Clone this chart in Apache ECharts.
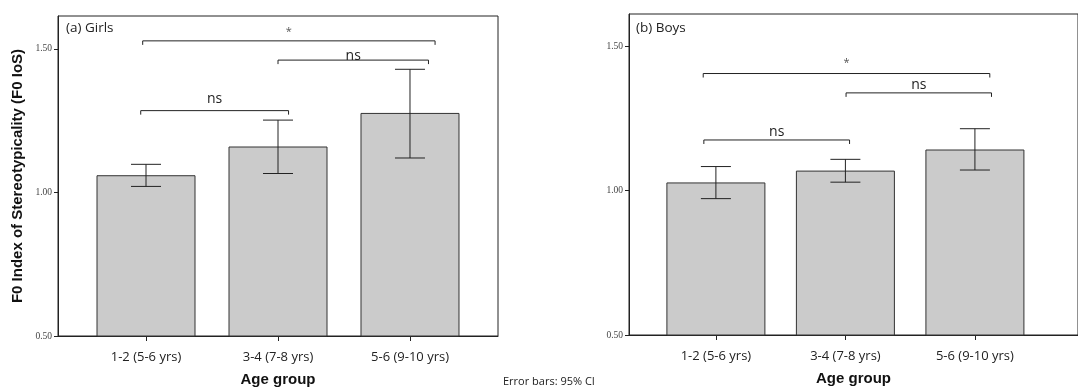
<!DOCTYPE html>
<html>
<head>
<meta charset="utf-8">
<script src="https://cdn.jsdelivr.net/npm/echarts@6/dist/echarts.min.js"></script>
<style>
  html, body { margin: 0; padding: 0; background: #fff; }
  #chart { width: 1078px; height: 392px; }
</style>
</head>
<body>
<div id="chart"></div>
<script>
  const ageGroups = ["1-2 (5-6 yrs)", "3-4 (7-8 yrs)", "5-6 (9-10 yrs)"];
  const yTicks = [0.5, 1.0, 1.5];

  const girlsMean = [1.06, 1.16, 1.277];
  const girlsLow = [1.021, 1.066, 1.12];
  const girlsHigh = [1.098, 1.252, 1.429];

  const boysMean = [1.028, 1.069, 1.142];
  const boysLow = [0.972, 1.029, 1.071];
  const boysHigh = [1.083, 1.108, 1.214];

  // [from, to, line level, label level, label]
  const girlsBrackets = [
    [-0.04, 1.08, 1.285, 1.326, "ns"],
    [1.0, 2.14, 1.461, 1.476, "ns"],
    [-0.025, 2.19, 1.528, 1.559, "*"],
  ];
  const boysBrackets = [
    [-0.093, 1.032, 1.175, 1.203, "ns"],
    [1.005, 2.128, 1.338, 1.366, "ns"],
    [-0.098, 2.115, 1.405, 1.442, "*"],
  ];

  const sans = "'Open Sans', 'Liberation Sans', sans-serif";
  const bold = "'Liberation Sans', Arial, sans-serif";
  const serif = "'Liberation Serif', 'DejaVu Serif', serif";

  const myChart = echarts.init(document.getElementById("chart"));

  const xAxisFor = (i, min, max) => ({
    type: "value",
    gridIndex: i,
    min: min,
    max: max,
    splitLine: { show: false },
    axisLine: { show: true, onZero: false, lineStyle: { color: "#222", width: 1 } },
    axisTick: { show: true, length: 5, customValues: [0, 1, 2], lineStyle: { color: "#222" } },
    axisLabel: {
      customValues: [0, 1, 2],
      formatter: (v) => ageGroups[Math.round(v)],
      margin: 15,
      fontFamily: sans,
      fontSize: 13,
      color: "#222",
    },
    name: "Age group",
    nameLocation: "middle",
    nameGap: 36,
    nameTextStyle: { fontFamily: bold, fontWeight: "bold", fontSize: 15, color: "#111" },
  });

  const yAxisFor = (i, max, withName) => ({
    type: "value",
    gridIndex: i,
    min: 0.5,
    max: max,
    splitLine: { show: false },
    axisLine: { show: true, onZero: false, lineStyle: { color: "#222", width: 1 } },
    axisTick: { show: true, length: 4, customValues: yTicks, lineStyle: { color: "#222" } },
    axisLabel: {
      customValues: yTicks,
      formatter: (v) => v.toFixed(2),
      margin: 6,
      fontFamily: serif,
      fontSize: 9.5,
      color: "#444",
    },
    name: withName ? "F0 Index of Stereotypicality (F0 IoS)" : "",
    nameLocation: "middle",
    nameGap: 33,
    nameTextStyle: { fontFamily: bold, fontWeight: "bold", fontSize: 15, color: "#111" },
  });

  const barSeries = (i, means) => ({
    type: "bar",
    xAxisIndex: i,
    yAxisIndex: i,
    barWidth: 99,
    data: means.map((v, k) => [k, v]),
    itemStyle: { color: "#cbcbcb", borderColor: "#333", borderWidth: 1 },
    silent: true,
  });

  const errorSeries = (i, low, high) => ({
    type: "custom",
    xAxisIndex: i,
    yAxisIndex: i,
    data: low.map((v, k) => [k, v, high[k]]),
    renderItem: (params, api) => {
      const lo = api.coord([api.value(0), api.value(1)]);
      const hi = api.coord([api.value(0), api.value(2)]);
      const half = 15;
      const style = { stroke: "#222", lineWidth: 1 };
      return {
        type: "group",
        children: [
          { type: "line", shape: { x1: lo[0], y1: lo[1], x2: hi[0], y2: hi[1] }, style },
          { type: "line", shape: { x1: hi[0] - half, y1: hi[1], x2: hi[0] + half, y2: hi[1] }, style },
          { type: "line", shape: { x1: lo[0] - half, y1: lo[1], x2: lo[0] + half, y2: lo[1] }, style },
        ],
      };
    },
    z: 5,
  });

  const bracketSeries = (i, brackets) => ({
    type: "custom",
    xAxisIndex: i,
    yAxisIndex: i,
    clip: false,
    data: brackets.map((b) => [b[0], b[1], b[2], b[3]]),
    renderItem: (params, api) => {
      const b = brackets[params.dataIndex];
      const a = api.coord([b[0], b[2]]);
      const c = api.coord([b[1], b[2]]);
      const t = api.coord([(b[0] + b[1]) / 2, b[3]]);
      const star = b[4] === "*";
      return {
        type: "group",
        children: [
          {
            type: "polyline",
            shape: { points: [[a[0], a[1] + 4], a, c, [c[0], c[1] + 4]] },
            style: { stroke: "#222", lineWidth: 1, fill: null },
          },
          {
            type: "text",
            x: t[0],
            y: t[1],
            style: {
              text: b[4],
              fontFamily: sans,
              fontSize: star ? 11 : 14,
              fill: star ? "#555" : "#222",
              align: "center",
              verticalAlign: "middle",
            },
          },
        ],
      };
    },
    z: 6,
  });

  const option = {
    animation: false,
    backgroundColor: "#fff",
    grid: [
      { left: 58, top: 16, width: 440, height: 321, show: true, borderColor: "#222", borderWidth: 1 },
      { left: 629, top: 14, width: 460, height: 321, show: true, borderColor: "#222", borderWidth: 1 },
    ],
    xAxis: [xAxisFor(0, -0.6667, 2.6667), xAxisFor(1, -0.671, 2.796)],
    yAxis: [yAxisFor(0, 1.6146, true), yAxisFor(1, 1.611, false)],
    graphic: [
      { type: "text", left: 66, top: 21, style: { text: "(a) Girls", fontFamily: sans, fontSize: 13.5, fill: "#222" } },
      { type: "text", left: 636, top: 21, style: { text: "(b) Boys", fontFamily: sans, fontSize: 13.5, fill: "#222" } },
      { type: "text", left: 503, top: 376, style: { text: "Error bars: 95% CI", fontFamily: sans, fontSize: 11, fill: "#222" } },
    ],
    series: [
      barSeries(0, girlsMean),
      errorSeries(0, girlsLow, girlsHigh),
      bracketSeries(0, girlsBrackets),
      barSeries(1, boysMean),
      errorSeries(1, boysLow, boysHigh),
      bracketSeries(1, boysBrackets),
    ],
  };

  myChart.setOption(option);
</script>
</body>
</html>
